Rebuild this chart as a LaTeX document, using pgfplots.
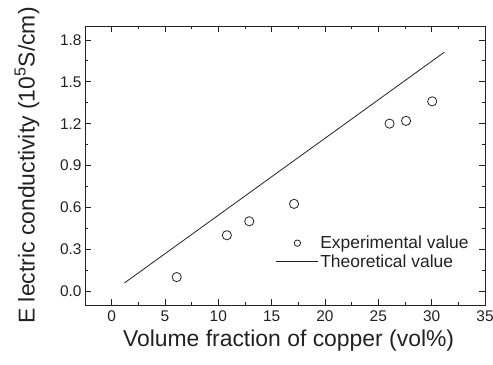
\documentclass[border=0pt]{standalone}
\usepackage{pgfplots}
\pgfplotsset{compat=1.18}
\usepackage{fontspec}
\setmainfont{Liberation Sans}
\definecolor{ink}{HTML}{222222}
\begin{document}
\begin{tikzpicture}
\useasboundingbox (-85bp,-60bp) rectangle (408bp,305bp);
\begin{axis}[
  at={(0,0)}, anchor=south west,
  scale only axis, width=400bp, height=279bp,
  xmin=-2.5, xmax=35, ymin=-0.1, ymax=1.9,
  xtick={0,5,...,35}, ytick={0,0.3,...,1.8},
  minor x tick num=1, minor y tick num=1,
  tick align=inside,
  major tick length=6bp, minor tick length=3.5bp,
  axis line style={line width=0.9bp, ink},
  every tick/.style={line width=0.8bp, ink},
  /pgf/number format/assume math mode=true,
  ticklabel style={font=\fontsize{15.5}{18}\selectfont, text=ink},
  yticklabel style={/pgf/number format/.cd, fixed, fixed zerofill, precision=1},
  xticklabel style={yshift=-2bp},
  label style={font=\fontsize{23}{27}\selectfont, text=ink},
  xlabel={Volume fraction of copper (vol\%)},
  ylabel={E lectric conductivity (10\textsuperscript{5}S/cm)},
  xlabel style={at={(axis description cs:0.509,-0.129)}, anchor=center},
  ylabel style={at={(axis description cs:-0.145,0.5)}, anchor=center},
  legend style={draw=none, fill=none, at={(0.477,0.253)}, anchor=north west,
    font=\fontsize{17.5}{20}\selectfont, text=ink, inner sep=0pt, row sep=1.5bp,
    nodes={inner sep=1.5bp}},
  legend cell align=left,
]
\addplot[only marks, mark=o, mark size=4.6bp, ink, mark options={line width=0.8bp},
  legend image code/.code={\path[draw=none] (0bp,0bp) -- (42bp,0bp);
    \path[draw=none] plot[mark=o, mark size=3.2bp, mark options={draw=ink, line width=0.8bp}] coordinates {(21bp,0bp)};}]
coordinates {(6.1,0.10) (10.8,0.40) (12.9,0.50) (17.1,0.625) (26.05,1.20) (27.6,1.22) (30.05,1.36)};
\addlegendentry{Experimental value}
\addplot[ink, line width=0.8bp, no marks,
  legend image code/.code={\draw[ink, line width=0.8bp] (0bp,0bp) -- (42bp,0bp);}]
coordinates {(1.2,0.058) (31.2,1.713)};
\addlegendentry{Theoretical value}
\end{axis}
\end{tikzpicture}
\end{document}
